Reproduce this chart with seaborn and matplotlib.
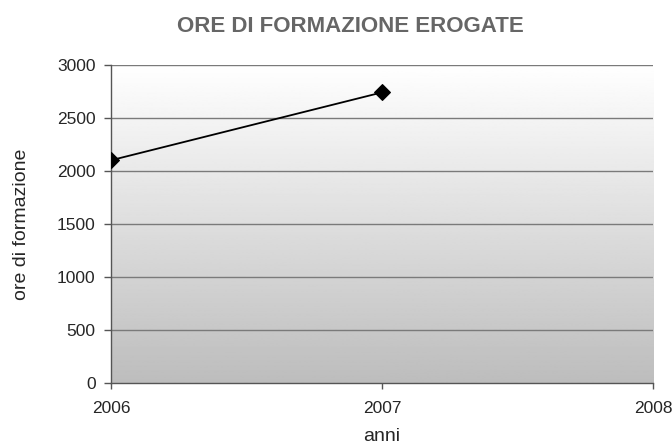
import matplotlib
matplotlib.use("Agg")
import matplotlib.pyplot as plt
import numpy as np
import pandas as pd
import seaborn as sns

anni = [2006, 2007]
ore = [2100, 2740]
x_ticks = [2006, 2007, 2008]
y_ticks = [0, 500, 1000, 1500, 2000, 2500, 3000]

df = pd.DataFrame({"anni": anni, "ore": ore})

sns.set_style("white")
plt.rcParams["font.family"] = ["Liberation Sans", "DejaVu Sans"]

fig = plt.figure(figsize=(6.72, 4.47), dpi=100)
ax = fig.add_axes([0.165, 0.143, 0.807, 0.712])

# gradient background, white on top to grey at the bottom
grad = np.linspace(1.0, 0.74, 256).reshape(-1, 1)
ax.imshow(grad, cmap="gray", vmin=0, vmax=1, aspect="auto",
          extent=[0, 1, 0, 1], transform=ax.transAxes, zorder=0)

for y in y_ticks[1:]:
    ax.axhline(y, color="#7a7a7a", lw=1.0, zorder=1)

sns.lineplot(data=df, x="anni", y="ore", ax=ax, color="black", lw=1.3,
             marker="D", markersize=8, markeredgecolor="black", zorder=3)

ax.set_xlim(2006, 2008)
ax.set_ylim(0, 3000)
ax.set_xticks(x_ticks)
ax.set_xticklabels([str(t) for t in x_ticks])
ax.set_yticks(y_ticks)
ax.tick_params(axis="both", direction="out", length=5, width=1, color="#555555",
               labelsize=12.5, pad=6, bottom=True, left=True)
ax.tick_params(axis="x", pad=9, length=4)

for s in ["top", "right"]:
    ax.spines[s].set_visible(False)
for s in ["left", "bottom"]:
    ax.spines[s].set_color("#555555")
    ax.spines[s].set_linewidth(1.0)

ax.set_xlabel("")
ax.set_ylabel("")
fig.text(382 / 672, 0.004, "anni", fontsize=14, ha="center", va="bottom")
fig.text(22 / 672, 1 - 224 / 447, "ore di formazione", fontsize=14,
         rotation=90, ha="center", va="center")
fig.text(350 / 672, 1 - 27 / 447, "ORE DI FORMAZIONE EROGATE", fontsize=16,
         fontweight="bold", color="#666666", ha="center", va="center")

fig.savefig("out.png", dpi=100)
